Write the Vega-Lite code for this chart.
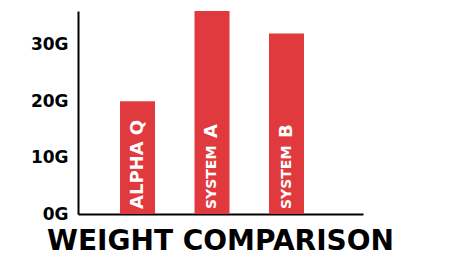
{
  "$schema": "https://vega.github.io/schema/vega-lite/v6.json",
  "width": 285,
  "height": 203,
  "autosize": {"type": "none"},
  "padding": {"left": 78, "top": 11, "right": 102, "bottom": 48},
  "background": "white",
  "config": {"view": {"stroke": null}},
  "data": {"values": [
    {"name": "Alpha Q", "weight": 20, "label": "ALPHA Q", "tag": ""},
    {"name": "System A", "weight": 36, "label": "SYSTEM", "tag": "A"},
    {"name": "System B", "weight": 32, "label": "SYSTEM", "tag": "B"}
  ]},
  "title": {
    "text": "WEIGHT COMPARISON",
    "orient": "bottom",
    "anchor": "middle",
    "baseline": "alphabetic",
    "font": "DejaVu Sans",
    "fontWeight": "bold",
    "fontSize": 28,
    "color": "black",
    "offset": 28
  },
  "encoding": {
    "x": {
      "field": "name", "type": "nominal", "sort": null,
      "scale": {"paddingInner": 0.53, "paddingOuter": 0.678, "align": 0.416},
      "axis": {"title": null, "labels": false, "ticks": false, "domainColor": "black", "domainWidth": 2}
    }
  },
  "layer": [
    {
      "mark": {"type": "bar", "color": "#E03A3F"},
      "encoding": {
        "y": {
          "field": "weight", "type": "quantitative",
          "scale": {"domain": [0, 36], "nice": false},
          "axis": {
            "title": null, "values": [0, 10, 20, 30], "grid": false, "ticks": false,
            "labelExpr": "datum.value + 'G'",
            "labelFont": "DejaVu Sans", "labelFontWeight": "bold", "labelFontSize": 17,
            "labelColor": "black", "labelPadding": 10, "labelFlush": false,
            "domainColor": "black", "domainWidth": 2
          }
        }
      }
    },
    {
      "mark": {"type": "text", "angle": 270, "align": "left", "baseline": "middle", "font": "DejaVu Sans", "fontWeight": "bold", "color": "white", "dx": 5},
      "encoding": {
        "y": {"datum": 0, "type": "quantitative"},
        "text": {"field": "label"},
        "size": {"condition": {"test": "datum.tag == ''", "value": 18}, "value": 14}
      }
    },
    {
      "transform": [{"filter": "datum.tag != ''"}],
      "mark": {"type": "text", "angle": 270, "align": "left", "baseline": "middle", "font": "DejaVu Sans", "fontWeight": "bold", "color": "white", "dx": 76, "fontSize": 18},
      "encoding": {
        "y": {"datum": 0, "type": "quantitative"},
        "text": {"field": "tag"}
      }
    }
  ]
}
